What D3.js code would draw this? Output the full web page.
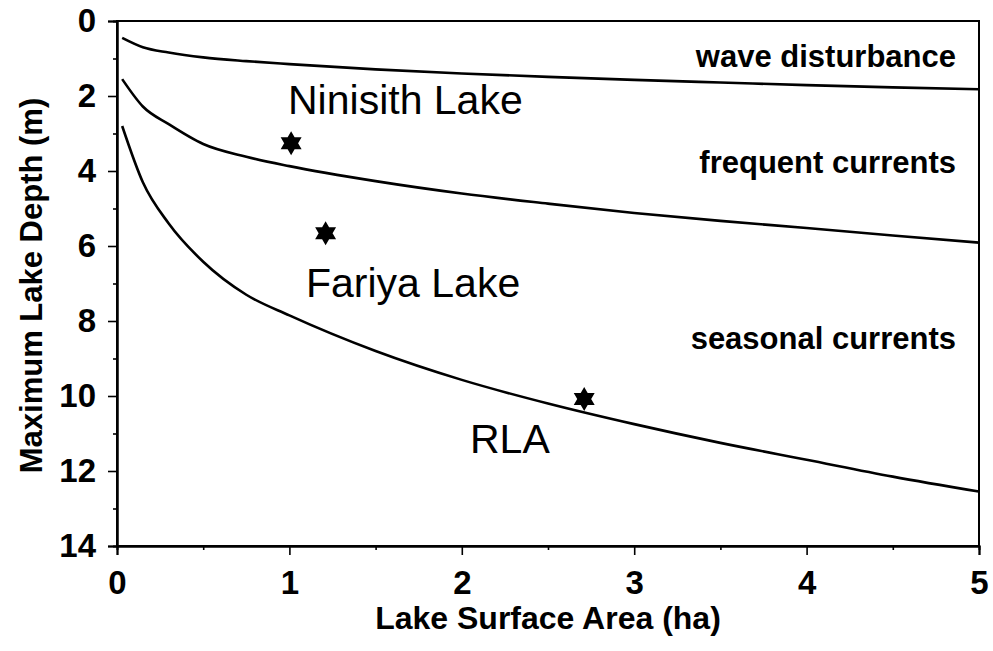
<!DOCTYPE html>
<html>
<head>
<meta charset="utf-8">
<script src="https://cdn.jsdelivr.net/npm/d3@7"></script>
<style>
  body { margin: 0; background: #fff; }
  svg { display: block; font-family: "Liberation Sans", Arial, sans-serif; }
</style>
</head>
<body>
<svg id="chart"></svg>
<script>
// data
let area = [0.03, 0.15, 0.3, 0.5, 0.75, 1, 1.5, 2, 2.5, 3, 3.5, 4, 4.5, 5];
let waveLine = [0.45, 0.70, 0.84, 0.97, 1.07, 1.15, 1.29, 1.40, 1.49, 1.57, 1.64, 1.71, 1.77, 1.82];
let frequentLine = [1.55, 2.28, 2.75, 3.28, 3.62, 3.87, 4.27, 4.60, 4.87, 5.12, 5.33, 5.52, 5.72, 5.91];
let seasonalLine = [2.8, 4.3, 5.4, 6.42, 7.3, 7.85, 8.8, 9.57, 10.2, 10.75, 11.25, 11.7, 12.15, 12.55];

let lakeNames = ["Ninisith Lake", "Fariya Lake", "RLA"];
let lakeArea = [1.01, 1.21, 2.71];
let lakeDepth = [3.26, 5.66, 10.08];

let zoneNames = ["wave disturbance", "frequent currents", "seasonal currents"];
let zoneDepth = [1.22, 4.05, 8.75];

let xTicks = [0, 1, 2, 3, 4, 5];
let yTicks = [0, 2, 4, 6, 8, 10, 12, 14];

let width = 993, height = 651;
let margin = {left: 117, right: 14, top: 21, bottom: 105};

let svg = d3.select("#chart").attr("width", width).attr("height", height);

let x = d3.scaleLinear().domain([0, 5]).range([margin.left, width - margin.right]);
let y = d3.scaleLinear().domain([0, 14]).range([margin.top, height - margin.bottom]);

// рамка
svg.append("rect")
  .attr("x", x(0)).attr("y", y(0))
  .attr("width", x(5) - x(0)).attr("height", y(14) - y(0))
  .attr("fill", "none").attr("stroke", "#000").attr("stroke-width", 2);

// оси
let xAxis = svg.append("g")
  .attr("transform", `translate(0,${y(14)})`)
  .call(d3.axisBottom(x).tickValues(xTicks).tickSize(9).tickPadding(16).tickFormat(d3.format("d")));
let xMinor = svg.append("g")
  .attr("transform", `translate(0,${y(14)})`)
  .call(d3.axisBottom(x).tickValues(d3.range(0.5, 5, 1)).tickSize(4).tickFormat(""));

let yAxis = svg.append("g")
  .attr("transform", `translate(${x(0)},0)`)
  .call(d3.axisLeft(y).tickValues(yTicks).tickSize(9).tickPadding(12).tickFormat(d3.format("d")));
let yMinor = svg.append("g")
  .attr("transform", `translate(${x(0)},0)`)
  .call(d3.axisLeft(y).tickValues(d3.range(1, 14, 2)).tickSize(4).tickFormat(""));

[xAxis, xMinor, yAxis, yMinor].forEach(g => {
  g.select(".domain").attr("stroke-width", 2);
  g.selectAll(".tick line").attr("stroke-width", 1.6);
});
[xAxis, yAxis].forEach(g => {
  g.attr("font-size", 33).attr("font-family", "'Liberation Sans', Arial, sans-serif");
  g.selectAll(".tick text")
    .attr("font-weight", "bold")
    .attr("fill", "#000");
});
xAxis.selectAll(".tick text").attr("dy", "0.71em");

// подписи осей
svg.append("text")
  .attr("x", (x(0) + x(5)) / 2).attr("y", 629)
  .attr("text-anchor", "middle")
  .attr("font-size", 32).attr("font-weight", "bold")
  .text("Lake Surface Area (ha)");

svg.append("text")
  .attr("transform", `translate(42,${(y(0) + y(14)) / 2 + 2}) rotate(-90)`)
  .attr("text-anchor", "middle")
  .attr("font-size", 31).attr("font-weight", "bold")
  .text("Maximum Lake Depth (m)");

// кривые
let line = d3.line()
  .x(d => x(d[0]))
  .y(d => y(d[1]))
  .curve(d3.curveMonotoneX);

[waveLine, frequentLine, seasonalLine].forEach(vals => {
  svg.append("path")
    .datum(area.map((a, i) => [a, vals[i]]))
    .attr("fill", "none")
    .attr("stroke", "#000")
    .attr("stroke-width", 2.6)
    .attr("d", line);
});

// шестиконечная звезда
let hexStar = {
  draw(context, size) {
    let r = Math.sqrt(size / 1.3);
    for (let k = 0; k < 2; k++) {
      for (let i = 0; i < 3; i++) {
        let a = -Math.PI / 2 + k * Math.PI / 3 + i * 2 * Math.PI / 3;
        if (i === 0) context.moveTo(r * Math.cos(a), r * Math.sin(a));
        else context.lineTo(r * Math.cos(a), r * Math.sin(a));
      }
      context.closePath();
    }
  }
};

svg.selectAll(".star")
  .data(lakeArea.map((a, i) => [a, lakeDepth[i]]))
  .enter().append("path")
  .attr("class", "star")
  .attr("transform", d => `translate(${x(d[0])},${y(d[1])})`)
  .attr("d", d3.symbol().type(hexStar).size(190))
  .attr("fill", "#000");

// подписи озёр
let lakeLabelPos = [[288, 114], [306, 297], [470, 453]];
svg.selectAll(".lake")
  .data(lakeNames)
  .enter().append("text")
  .attr("class", "lake")
  .attr("x", (d, i) => lakeLabelPos[i][0])
  .attr("y", (d, i) => lakeLabelPos[i][1])
  .attr("font-size", 41)
  .text(d => d);

// подписи зон
svg.selectAll(".zone")
  .data(zoneNames)
  .enter().append("text")
  .attr("class", "zone")
  .attr("x", 956)
  .attr("y", (d, i) => y(zoneDepth[i]))
  .attr("text-anchor", "end")
  .attr("font-size", 31)
  .attr("font-weight", "bold")
  .text(d => d);
</script>
</body>
</html>
